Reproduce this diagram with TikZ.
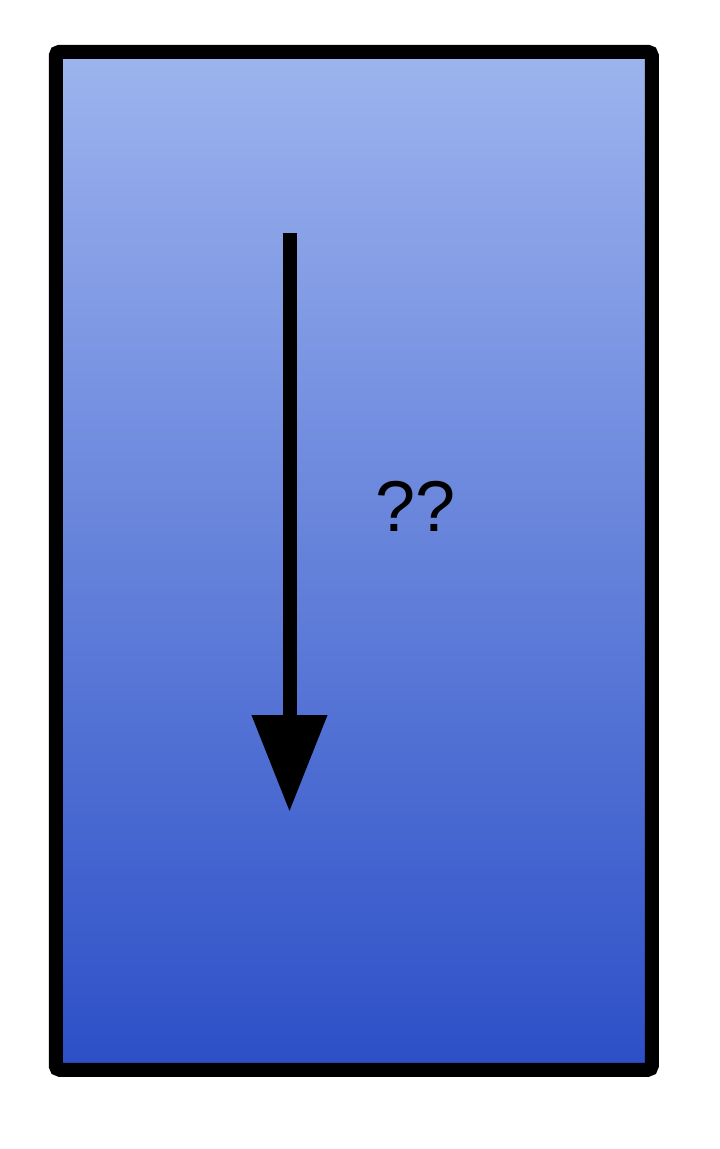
\documentclass[tikz,border=0pt]{standalone}
\usepackage{fontspec}
\setmainfont{Liberation Sans}
\usetikzlibrary{positioning,arrows.meta}
\definecolor{tanktop}{HTML}{9DB4EE}
\definecolor{tankbottom}{HTML}{2C4FC7}
\tikzset{tank/.style={rectangle,draw,line width=14pt,rounded corners=4pt,top color=tanktop,bottom color=tankbottom,minimum width=596pt,minimum height=1018pt,inner sep=0pt}}
\tikzset{textbox/.style={draw=none,color=black,inner sep=0pt,font=\fontsize{72}{80}\selectfont}}
\tikzset{flow/.style={-{Triangle[width=72pt,length=97pt]},line width=14pt}}

\begin{document}
\begin{tikzpicture}[x=1pt,y=-1pt]
        \useasboundingbox (0,0) rectangle (720,1149);
        \node[tank] (tank) at (353.75,560.75) {};
        \coordinate (top) at (289.5,233);
        \coordinate (bottom) at (289.5,812);
        \node[textbox] (q) at (416,506) {??};

        \draw[flow] (top) to (bottom);
    \end{tikzpicture}
\end{document}
